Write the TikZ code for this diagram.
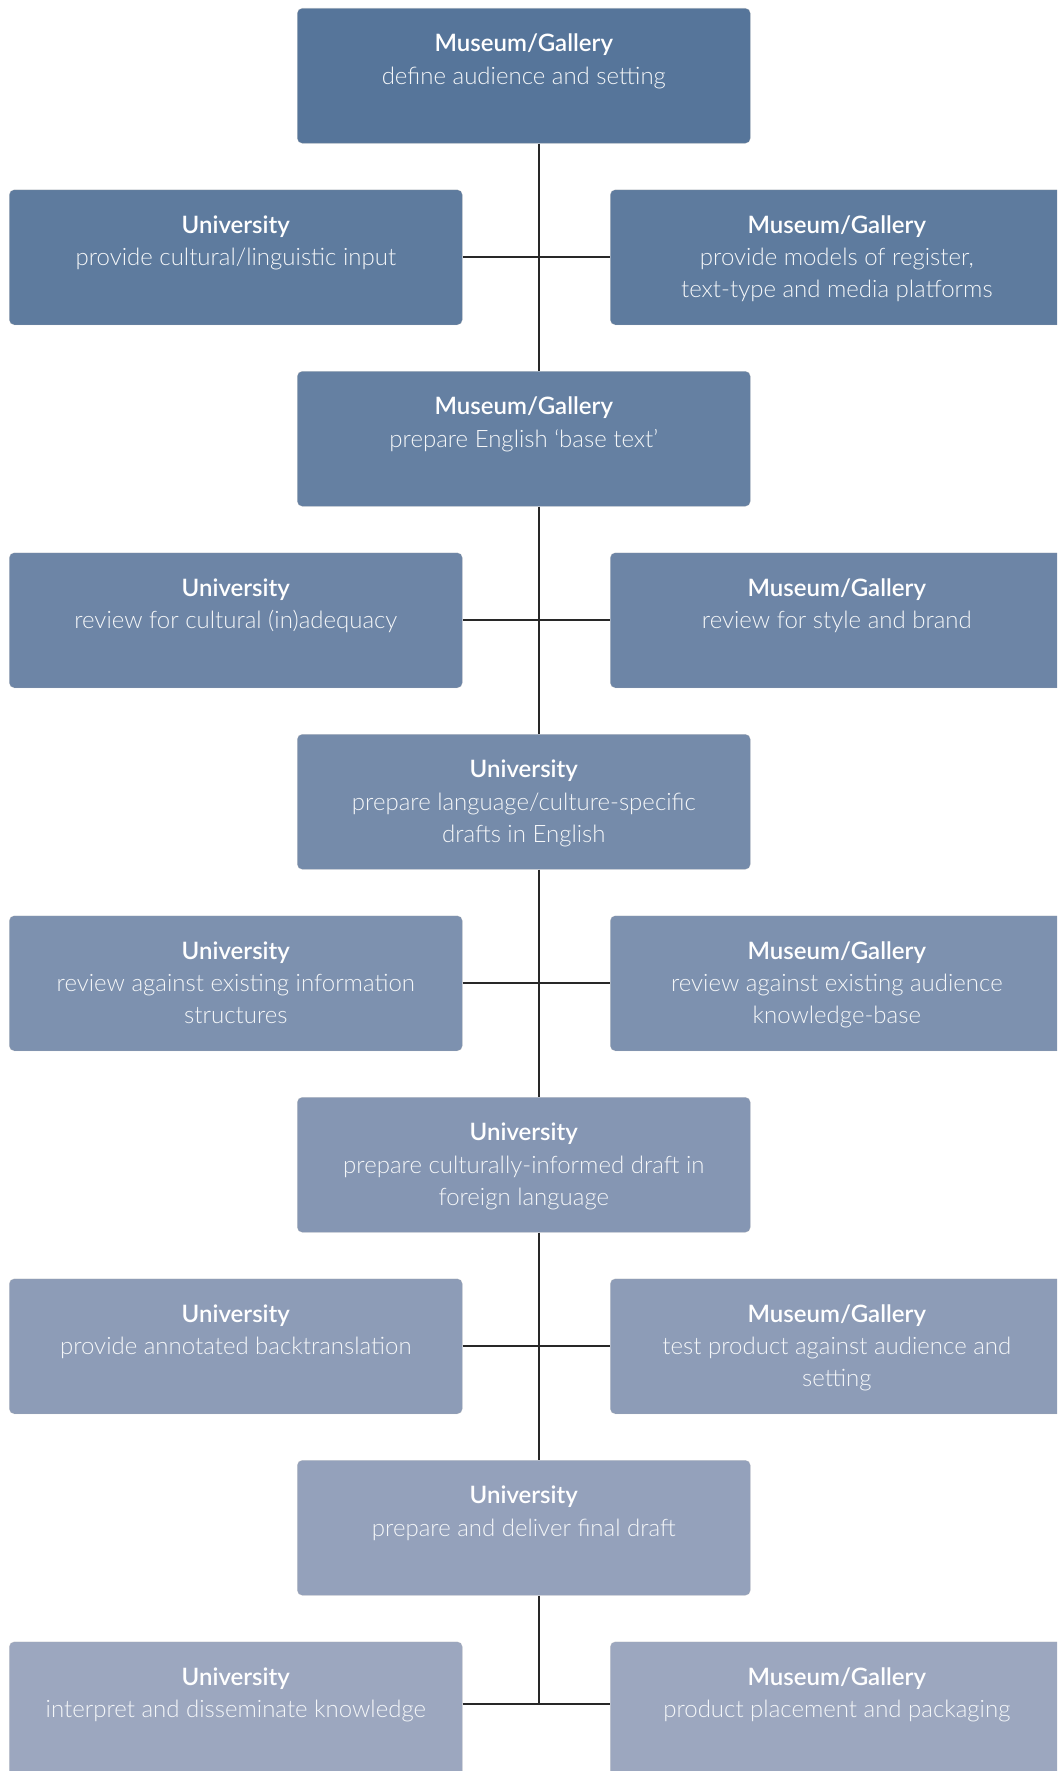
\documentclass[tikz,border=0pt]{standalone}
\usepackage{fontspec}
\setmainfont{Lato}
\IfFontExistsTF{Lato Light}{\newfontfamily\lightfont{Lato Light}}{\newfontfamily\lightfont{Lato}}
\IfFontExistsTF{Lato Semibold}{\newfontfamily\boldfont{Lato Semibold}}{\newfontfamily\boldfont{Lato}[UprightFont={* Bold}]}
\definecolor{topc}{RGB}{86,117,154}
\definecolor{botc}{RGB}{156,167,191}
\colorlet{rowA}{topc}
\colorlet{rowB}{botc!11!topc}
\colorlet{rowC}{botc!22!topc}
\colorlet{rowD}{botc!33!topc}
\colorlet{rowE}{botc!44!topc}
\colorlet{rowF}{botc!56!topc}
\colorlet{rowG}{botc!67!topc}
\colorlet{rowH}{botc!78!topc}
\colorlet{rowI}{botc!89!topc}
\colorlet{rowJ}{botc}
\definecolor{linec}{RGB}{40,40,40}
\tikzset{
  box/.style={rectangle, rounded corners=5pt, minimum width=453pt, minimum height=135pt, anchor=north west, inner sep=0pt, draw=white!70!black, draw opacity=0.3, line width=0.6pt},
  txt/.style={anchor=north, align=center, inner sep=0pt, text=white, font=\fontsize{24}{32.2}\selectfont},
  conn/.style={draw=linec, line width=1.8pt}
}
\newcommand{\ttl}[1]{{\boldfont\fontsize{24}{32.2}\selectfont #1}}
\newcommand{\bdy}[1]{{\lightfont\color{white!94!topc} #1}}
\begin{document}
\begin{tikzpicture}[x=1pt,y=-1pt]
\useasboundingbox (0,0) rectangle (1057,1771);
\clip (0,0) rectangle (1057,1771);
\fill[white] (0,0) rectangle (1057,1771);
\coordinate (spine) at (539,0);
% row 0
\node[box, fill=rowA] (c0) at (297,8) {};
\node[txt] (c0t) at ([yshift=-26pt]c0.north) {\ttl{Museum/Gallery}\\\bdy{define audience and setting}};
% row 1
\node[box, fill=rowB] (l1) at (9,189.5) {};
\node[txt] (l1t) at ([yshift=-26pt]l1.north) {\ttl{University}\\\bdy{provide cultural/linguistic input}};
\node[box, fill=rowB] (r1) at (610,189.5) {};
\node[txt] (r1t) at ([yshift=-26pt]r1.north) {\ttl{Museum/Gallery}\\\bdy{provide models of register,}\\\bdy{text-type and media platforms}};
% row 2
\node[box, fill=rowC] (c2) at (297,371) {};
\node[txt] (c2t) at ([yshift=-26pt]c2.north) {\ttl{Museum/Gallery}\\\bdy{prepare English ‘base text’}};
% row 3
\node[box, fill=rowD] (l3) at (9,552.5) {};
\node[txt] (l3t) at ([yshift=-26pt]l3.north) {\ttl{University}\\\bdy{review for cultural (in)adequacy}};
\node[box, fill=rowD] (r3) at (610,552.5) {};
\node[txt] (r3t) at ([yshift=-26pt]r3.north) {\ttl{Museum/Gallery}\\\bdy{review for style and brand}};
% row 4
\node[box, fill=rowE] (c4) at (297,734) {};
\node[txt] (c4t) at ([yshift=-26pt]c4.north) {\ttl{University}\\\bdy{prepare language/culture-specific}\\\bdy{drafts in English}};
% row 5
\node[box, fill=rowF] (l5) at (9,915.5) {};
\node[txt] (l5t) at ([yshift=-26pt]l5.north) {\ttl{University}\\\bdy{review against existing information}\\\bdy{structures}};
\node[box, fill=rowF] (r5) at (610,915.5) {};
\node[txt] (r5t) at ([yshift=-26pt]r5.north) {\ttl{Museum/Gallery}\\\bdy{review against existing audience}\\\bdy{knowledge-base}};
% row 6
\node[box, fill=rowG] (c6) at (297,1097) {};
\node[txt] (c6t) at ([yshift=-26pt]c6.north) {\ttl{University}\\\bdy{prepare culturally-informed draft in}\\\bdy{foreign language}};
% row 7
\node[box, fill=rowH] (l7) at (9,1278.5) {};
\node[txt] (l7t) at ([yshift=-26pt]l7.north) {\ttl{University}\\\bdy{provide annotated backtranslation}};
\node[box, fill=rowH] (r7) at (610,1278.5) {};
\node[txt] (r7t) at ([yshift=-26pt]r7.north) {\ttl{Museum/Gallery}\\\bdy{test product against audience and}\\\bdy{setting}};
% row 8
\node[box, fill=rowI] (c8) at (297,1460) {};
\node[txt] (c8t) at ([yshift=-26pt]c8.north) {\ttl{University}\\\bdy{prepare and deliver final draft}};
% row 9
\node[box, fill=rowJ] (l9) at (9,1641.5) {};
\node[txt] (l9t) at ([yshift=-26pt]l9.north) {\ttl{University}\\\bdy{interpret and disseminate knowledge}};
\node[box, fill=rowJ] (r9) at (610,1641.5) {};
\node[txt] (r9t) at ([yshift=-26pt]r9.north) {\ttl{Museum/Gallery}\\\bdy{product placement and packaging}};
\coordinate (lastjoin) at ([yshift=5.5pt]l9.east);
% connectors
\draw[conn] (c0.south -| spine) -- (c2.north -| spine);
\draw[conn] (c2.south -| spine) -- (c4.north -| spine);
\draw[conn] (c4.south -| spine) -- (c6.north -| spine);
\draw[conn] (c6.south -| spine) -- (c8.north -| spine);
\draw[conn] (c8.south -| spine) -- (lastjoin -| spine);
\draw[conn] (l1.east) -- (r1.west);
\draw[conn] (l3.east) -- (r3.west);
\draw[conn] (l5.east) -- (r5.west);
\draw[conn] (l7.east) -- (r7.west);
\draw[conn] (lastjoin) -- (lastjoin -| r9.west);
\end{tikzpicture}
\end{document}
